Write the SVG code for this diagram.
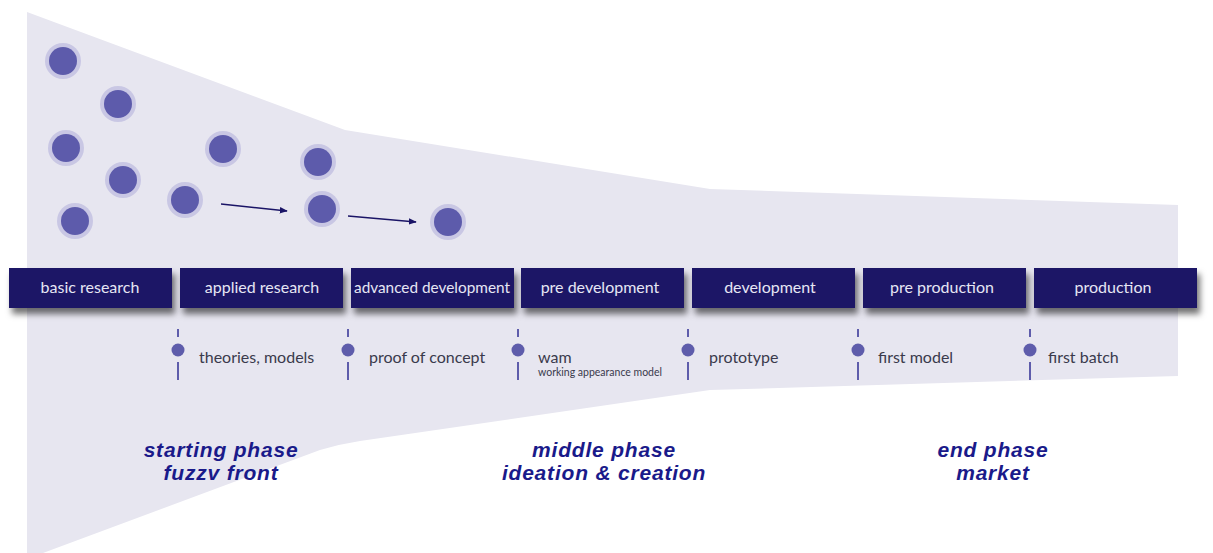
<svg xmlns="http://www.w3.org/2000/svg" width="1213" height="553" viewBox="0 0 1213 553">
<style>
.bar{fill:#1e1866;}
.bt{font-family:Lato,"Open Sans",sans-serif;font-size:16px;fill:#e6e6f4;text-anchor:middle;}
.lt{font-family:Lato,"Open Sans",sans-serif;font-size:16px;fill:#3a3a4c;}
.st{font-family:Lato,"Open Sans",sans-serif;font-size:10.5px;fill:#3a3a4c;}
.ph{font-family:"Liberation Sans",Arial,sans-serif;font-size:21px;letter-spacing:0.8px;font-weight:bold;font-style:italic;fill:#1a1a8a;text-anchor:middle;}
.tick{stroke:#5e5cab;stroke-width:2;}
.dot{fill:#5e5cab;}
.halo{fill:#c9c7e4;}
.core{fill:#5d5bab;}
.arr{stroke:#1a1466;stroke-width:1.6;fill:none;marker-end:url(#ah);}
</style>
<defs>
<marker id="ah" viewBox="0 0 10 10" refX="9" refY="5" markerWidth="8" markerHeight="8" orient="auto" markerUnits="userSpaceOnUse">
<path d="M0,1 L10,5 L0,9 z" fill="#1a1466"/>
</marker>
<filter id="sh" x="-10%" y="-30%" width="125%" height="180%">
<feDropShadow dx="3" dy="6" stdDeviation="3" flood-color="#000" flood-opacity="0.55"/>
</filter>
</defs>
<rect width="1213" height="553" fill="#ffffff"/>
<path id="funnel" d="M27,12 L345,130 L710,189 L1178,205 L1178,376 L710,390 L360,441 Q340,444 320,450 L43,553 L27,553 Z" fill="#e7e6f0"/>

<g id="ideas">
<circle class="halo" cx="63" cy="61" r="18"/><circle class="core" cx="63" cy="61" r="14"/>
<circle class="halo" cx="118" cy="104" r="18"/><circle class="core" cx="118" cy="104" r="14"/>
<circle class="halo" cx="66" cy="148" r="18"/><circle class="core" cx="66" cy="148" r="14"/>
<circle class="halo" cx="223" cy="149" r="18"/><circle class="core" cx="223" cy="149" r="14"/>
<circle class="halo" cx="318" cy="162" r="18"/><circle class="core" cx="318" cy="162" r="14"/>
<circle class="halo" cx="123" cy="180" r="18"/><circle class="core" cx="123" cy="180" r="14"/>
<circle class="halo" cx="185" cy="200" r="18"/><circle class="core" cx="185" cy="200" r="14"/>
<circle class="halo" cx="322" cy="209" r="18"/><circle class="core" cx="322" cy="209" r="14"/>
<circle class="halo" cx="75" cy="221" r="18"/><circle class="core" cx="75" cy="221" r="14"/>
<circle class="halo" cx="448" cy="222" r="18"/><circle class="core" cx="448" cy="222" r="14"/>
</g>

<g id="connectors">
<line class="arr" x1="221" y1="204" x2="287" y2="211"/>
<line class="arr" x1="348" y1="216" x2="416" y2="222"/>
</g>

<g id="stage-basic-research"><rect class="bar" filter="url(#sh)" x="9" y="268" width="163" height="40"/><text class="bt" x="90" y="293">basic research</text></g>
<g id="stage-applied-research"><rect class="bar" filter="url(#sh)" x="180" y="268" width="163" height="40"/><text class="bt" x="262" y="293">applied research</text></g>
<g id="stage-advanced-development"><rect class="bar" filter="url(#sh)" x="351" y="268" width="163" height="40"/><text class="bt" x="432" y="293" textLength="156" lengthAdjust="spacingAndGlyphs">advanced development</text></g>
<g id="stage-pre-development"><rect class="bar" filter="url(#sh)" x="521" y="268" width="163" height="40"/><text class="bt" x="600" y="293">pre development</text></g>
<g id="stage-development"><rect class="bar" filter="url(#sh)" x="692" y="268" width="163" height="40"/><text class="bt" x="770" y="293">development</text></g>
<g id="stage-pre-production"><rect class="bar" filter="url(#sh)" x="863" y="268" width="163" height="40"/><text class="bt" x="942" y="293">pre production</text></g>
<g id="stage-production"><rect class="bar" filter="url(#sh)" x="1034" y="268" width="163" height="40"/><text class="bt" x="1113" y="293">production</text></g>

<g id="milestone-theories">
<line class="tick" x1="178" y1="329" x2="178" y2="337"/><circle class="dot" cx="178" cy="350" r="6.5"/><line class="tick" x1="178" y1="362" x2="178" y2="380"/>
<text class="lt" x="199" y="363">theories, models</text></g>
<g id="milestone-proof">
<line class="tick" x1="348" y1="329" x2="348" y2="337"/><circle class="dot" cx="348" cy="350" r="6.5"/><line class="tick" x1="348" y1="362" x2="348" y2="380"/>
<text class="lt" x="369" y="363">proof of concept</text></g>
<g id="milestone-wam">
<line class="tick" x1="518" y1="329" x2="518" y2="337"/><circle class="dot" cx="518" cy="350" r="6.5"/><line class="tick" x1="518" y1="362" x2="518" y2="380"/>
<text class="lt" x="538" y="363">wam</text><text class="st" x="538" y="376">working appearance model</text></g>
<g id="milestone-prototype">
<line class="tick" x1="688" y1="329" x2="688" y2="337"/><circle class="dot" cx="688" cy="350" r="6.5"/><line class="tick" x1="688" y1="362" x2="688" y2="380"/>
<text class="lt" x="709" y="363">prototype</text></g>
<g id="milestone-first-model">
<line class="tick" x1="858" y1="329" x2="858" y2="337"/><circle class="dot" cx="858" cy="350" r="6.5"/><line class="tick" x1="858" y1="362" x2="858" y2="380"/>
<text class="lt" x="878" y="363">first model</text></g>
<g id="milestone-first-batch">
<line class="tick" x1="1030" y1="329" x2="1030" y2="337"/><circle class="dot" cx="1030" cy="350" r="6.5"/><line class="tick" x1="1030" y1="362" x2="1030" y2="380"/>
<text class="lt" x="1048" y="363">first batch</text></g>

<g id="phase-start"><text class="ph" x="221" y="457">starting phase</text><text class="ph" x="221" y="480">fuzzv front</text></g>
<g id="phase-middle"><text class="ph" x="604" y="457">middle phase</text><text class="ph" x="604" y="480">ideation &amp; creation</text></g>
<g id="phase-end"><text class="ph" x="993" y="457">end phase</text><text class="ph" x="993" y="480">market</text></g>
</svg>
